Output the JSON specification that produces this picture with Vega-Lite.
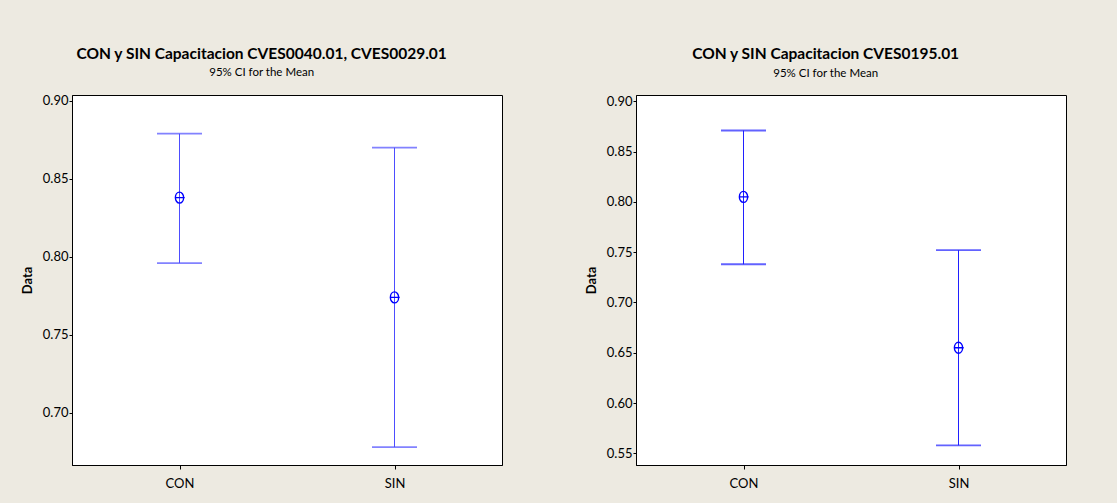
{
  "$schema": "https://vega.github.io/schema/vega-lite/v6.json",
  "background": "#EDEAE1",
  "padding": {"left": 20, "top": 46, "right": 50, "bottom": 20},
  "datasets": {
    "left": [
      {"grp": "CON", "lo": 0.796, "mean": 0.838, "hi": 0.879},
      {"grp": "SIN", "lo": 0.678, "mean": 0.774, "hi": 0.870}
    ],
    "right": [
      {"grp": "CON", "lo": 0.738, "mean": 0.805, "hi": 0.871},
      {"grp": "SIN", "lo": 0.558, "mean": 0.655, "hi": 0.752}
    ]
  },
  "spacing": 81,
  "hconcat": [
    {
      "width": 430,
      "height": 370,
      "title": {"text": "CON y SIN Capacitacion CVES0040.01, CVES0029.01", "subtitle": "95% CI for the Mean"},
      "data": {"name": "left"},
      "encoding": {
        "x": {"field": "grp", "type": "nominal", "scale": {"type": "point", "padding": 0.5}, "axis": {"title": null}}
      },
      "layer": [
        {"mark": {"type": "rule", "color": "#4D4DFF", "strokeWidth": 1},
         "encoding": {"y": {"field": "lo", "type": "quantitative", "scale": {"domain": [0.6665, 0.9038], "nice": false, "zero": false}, "axis": {"title": "Data", "values": [0.70, 0.75, 0.80, 0.85, 0.90], "format": ".2f"}}, "y2": {"field": "hi"}}},
        {"mark": {"type": "tick", "color": "#4D4DFF", "size": 45, "thickness": 1.8}, "encoding": {"y": {"field": "lo", "type": "quantitative"}}},
        {"mark": {"type": "tick", "color": "#4D4DFF", "size": 45, "thickness": 1.8}, "encoding": {"y": {"field": "hi", "type": "quantitative"}}},
        {"mark": {"type": "point", "shape": "M-0.75,0A0.75,1,0,1,1,0.75,0A0.75,1,0,1,1,-0.75,0ZM-0.75,0L0.95,0", "filled": false, "size": 121, "color": "#0000FF", "strokeWidth": 1.4, "opacity": 1},
         "encoding": {"y": {"field": "mean", "type": "quantitative"}}}
      ]
    },
    {
      "width": 430,
      "height": 370,
      "title": {"text": "CON y SIN Capacitacion CVES0195.01", "subtitle": "95% CI for the Mean"},
      "data": {"name": "right"},
      "encoding": {
        "x": {"field": "grp", "type": "nominal", "scale": {"type": "point", "padding": 0.5}, "axis": {"title": null}}
      },
      "layer": [
        {"mark": {"type": "rule", "color": "#2020FF", "strokeWidth": 1},
         "encoding": {"y": {"field": "lo", "type": "quantitative", "scale": {"domain": [0.5384, 0.9063], "nice": false, "zero": false}, "axis": {"title": "Data", "values": [0.55, 0.60, 0.65, 0.70, 0.75, 0.80, 0.85, 0.90], "format": ".2f"}}, "y2": {"field": "hi"}}},
        {"mark": {"type": "tick", "color": "#2020FF", "size": 45, "thickness": 1.8}, "encoding": {"y": {"field": "lo", "type": "quantitative"}}},
        {"mark": {"type": "tick", "color": "#2020FF", "size": 45, "thickness": 1.8}, "encoding": {"y": {"field": "hi", "type": "quantitative"}}},
        {"mark": {"type": "point", "shape": "M-0.75,0A0.75,1,0,1,1,0.75,0A0.75,1,0,1,1,-0.75,0ZM-0.75,0L0.95,0", "filled": false, "size": 121, "color": "#0000FF", "strokeWidth": 1.4, "opacity": 1},
         "encoding": {"y": {"field": "mean", "type": "quantitative"}}}
      ]
    }
  ],
  "config": {
    "font": "Lato, Liberation Sans, sans-serif",
    "view": {"fill": "white", "stroke": "black", "strokeWidth": 1},
    "title": {"anchor": "middle", "frame": "bounds", "font": "Lato", "fontSize": 15.5, "fontWeight": "bold", "color": "black", "subtitleFont": "Lato", "subtitleFontSize": 11.5, "subtitleColor": "black", "subtitlePadding": 5, "offset": 16},
    "axis": {"grid": false, "domainColor": "black", "tickColor": "black", "labelColor": "black", "labelFont": "Lato", "labelFontSize": 13, "titleColor": "black", "titleFont": "Lato", "titleFontSize": 13, "titleFontWeight": "bold"},
    "axisY": {"tickSize": 3, "labelPadding": 1, "titlePadding": 8},
    "axisX": {"tickSize": 4, "labelPadding": 8, "labelAngle": 0}
  }
}
